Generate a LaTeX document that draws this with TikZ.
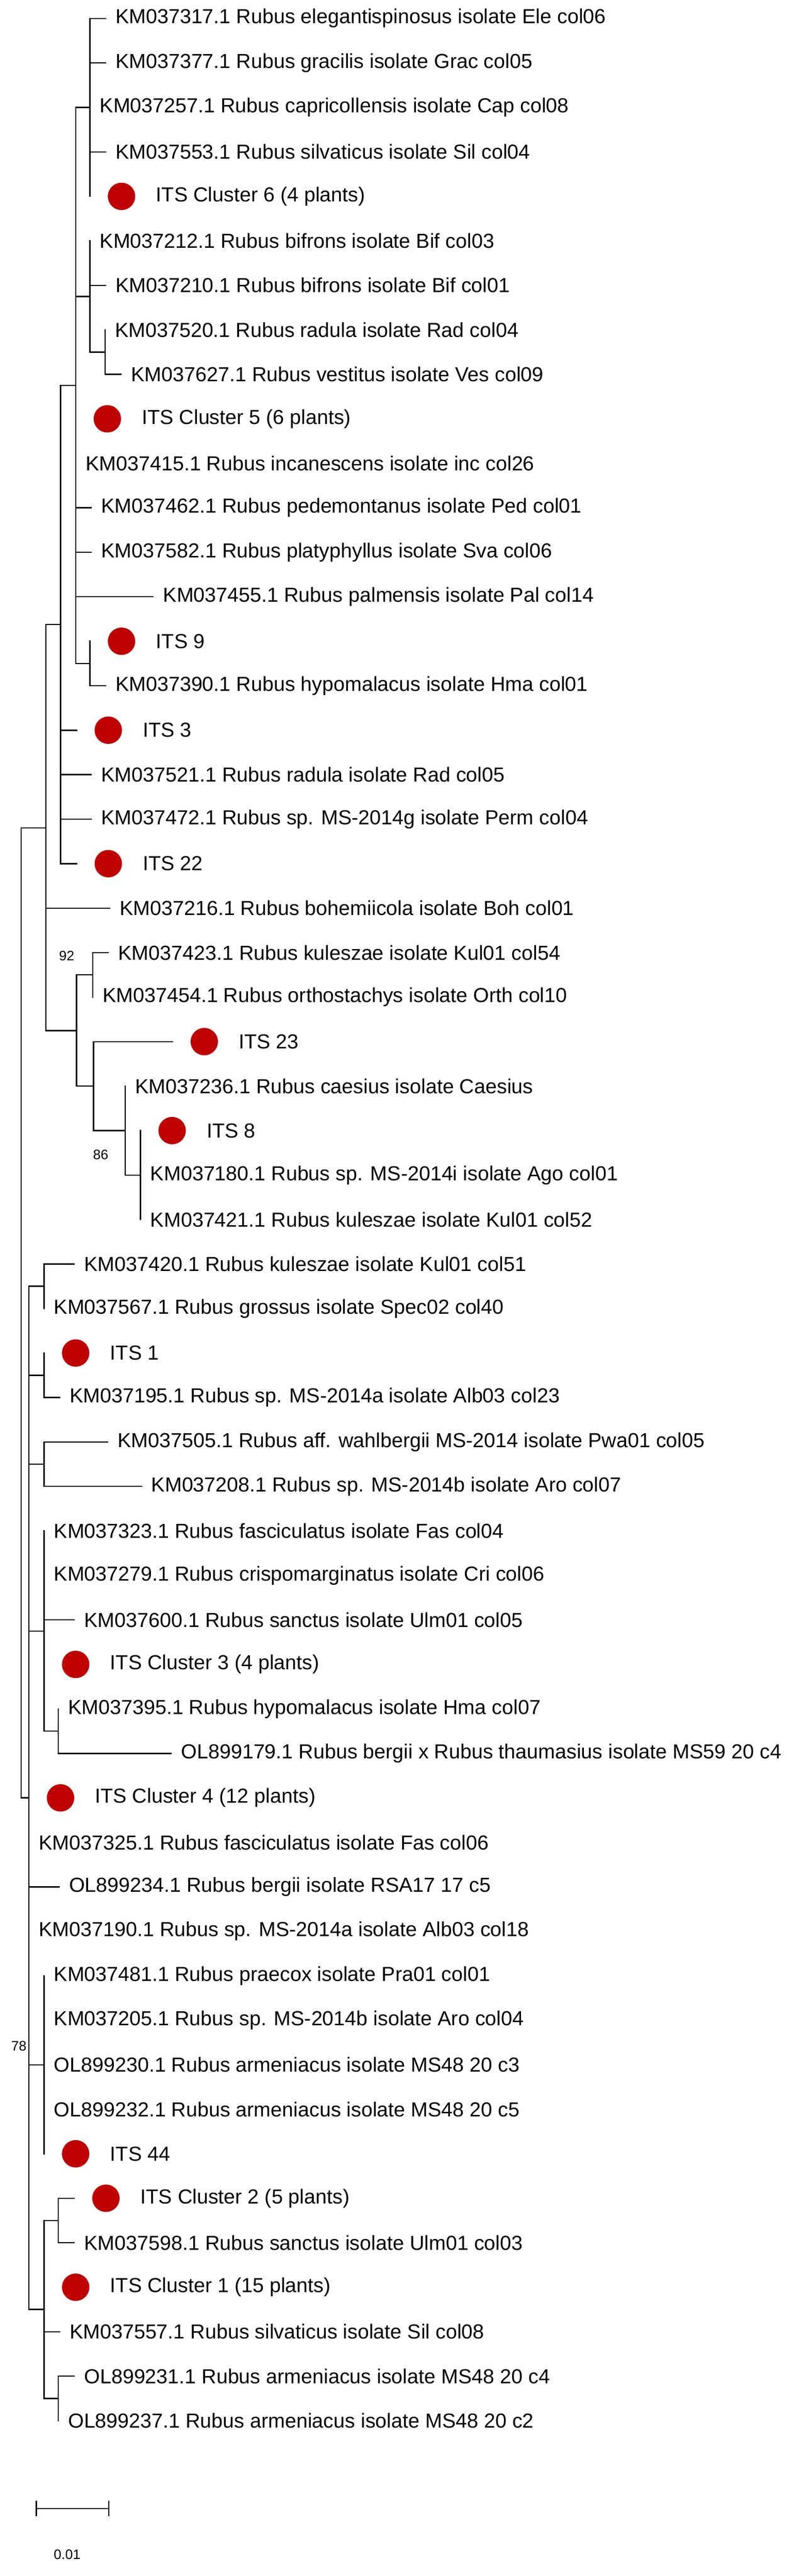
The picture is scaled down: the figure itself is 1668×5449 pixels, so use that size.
\documentclass[tikz,border=0pt]{standalone}
\usepackage{fontspec}
\setmainfont{Liberation Sans}
\begin{document}
\begin{tikzpicture}[x=1pt,y=1pt,
  br/.style={line width=2.6pt,line cap=rect},
  lab/.style={anchor=west,inner sep=0pt,font=\fontsize{43}{50}\selectfont},
  dot/.style={circle,fill=dotred,minimum size=58pt,inner sep=0pt},
  bs/.style={inner sep=0pt,font=\fontsize{29}{33}\selectfont}]
\definecolor{dotred}{RGB}{192,0,0}
\useasboundingbox (0,0) rectangle (1668,-5449);
\newcommand\mkleaf[4]{\coordinate (#1) at (#2,{-(39+94.1*(#3-1))});
  \node[lab] (#1t) at ([xshift=21pt]#1) {#4};}
\newcommand\mkdot[4]{\coordinate (#1) at (#2,{-(39+94.1*(#3-1))});
  \node[dot] (#1d) at ([xshift=67pt]#1) {};
  \node[lab] (#1t) at ([xshift=140pt]#1) {#4};}
% leaves
\mkleaf{t1}{223}{1}{KM037317.1 Rubus elegantispinosus isolate Ele col06}
\mkleaf{t2}{223}{2}{KM037377.1 Rubus gracilis isolate Grac col05}
\mkleaf{t3}{190}{3}{KM037257.1 Rubus capricollensis isolate Cap col08}
\mkleaf{t4}{223}{4}{KM037553.1 Rubus silvaticus isolate Sil col04}
\mkdot{t5}{190}{5}{ITS Cluster 6 (4 plants)}
\mkleaf{t6}{190}{6}{KM037212.1 Rubus bifrons isolate Bif col03}
\mkleaf{t7}{223}{7}{KM037210.1 Rubus bifrons isolate Bif col01}
\mkleaf{t8}{222}{8}{KM037520.1 Rubus radula isolate Rad col04}
\mkleaf{t9}{256}{9}{KM037627.1 Rubus vestitus isolate Ves col09}
\mkdot{t10}{160}{10}{ITS Cluster 5 (6 plants)}
\mkleaf{t11}{160}{11}{KM037415.1 Rubus incanescens isolate inc col26}
\mkleaf{t12}{193}{12}{KM037462.1 Rubus pedemontanus isolate Ped col01}
\mkleaf{t13}{193}{13}{KM037582.1 Rubus platyphyllus isolate Sva col06}
\mkleaf{t14}{324}{14}{KM037455.1 Rubus palmensis isolate Pal col14}
\mkdot{t15}{190}{15}{ITS 9}
\mkleaf{t16}{223}{16}{KM037390.1 Rubus hypomalacus isolate Hma col01}
\mkdot{t17}{162}{17}{ITS 3}
\mkleaf{t18}{193}{18}{KM037521.1 Rubus radula isolate Rad col05}
\mkleaf{t19}{193}{19}{KM037472.1 Rubus sp. MS-2014g isolate Perm col04}
\mkdot{t20}{162}{20}{ITS 22}
\mkleaf{t21}{232}{21}{KM037216.1 Rubus bohemiicola isolate Boh col01}
\mkleaf{t22}{229}{22}{KM037423.1 Rubus kuleszae isolate Kul01 col54}
\mkleaf{t23}{196}{23}{KM037454.1 Rubus orthostachys isolate Orth col10}
\mkdot{t24}{365}{24}{ITS 23}
\mkleaf{t25}{265}{25}{KM037236.1 Rubus caesius isolate Caesius}
\mkdot{t26}{297}{26}{ITS 8}
\mkleaf{t27}{297}{27}{KM037180.1 Rubus sp. MS-2014i isolate Ago col01}
\mkleaf{t28}{297}{28}{KM037421.1 Rubus kuleszae isolate Kul01 col52}
\mkleaf{t29}{157}{29}{KM037420.1 Rubus kuleszae isolate Kul01 col51}
\mkleaf{t30}{93}{30}{KM037567.1 Rubus grossus isolate Spec02 col40}
\mkdot{t31}{93}{31}{ITS 1}
\mkleaf{t32}{126}{32}{KM037195.1 Rubus sp. MS-2014a isolate Alb03 col23}
\mkleaf{t33}{228}{33}{KM037505.1 Rubus aff. wahlbergii MS-2014 isolate Pwa01 col05}
\mkleaf{t34}{299}{34}{KM037208.1 Rubus sp. MS-2014b isolate Aro col07}
\mkleaf{t35}{93}{35}{KM037323.1 Rubus fasciculatus isolate Fas col04}
\mkleaf{t36}{93}{36}{KM037279.1 Rubus crispomarginatus isolate Cri col06}
\mkleaf{t37}{157}{37}{KM037600.1 Rubus sanctus isolate Ulm01 col05}
\mkdot{t38}{93}{38}{ITS Cluster 3 (4 plants)}
\mkleaf{t39}{123}{39}{KM037395.1 Rubus hypomalacus isolate Hma col07}
\mkleaf{t40}{362}{40}{OL899179.1 Rubus bergii x Rubus thaumasius isolate MS59 20 c4}
\mkdot{t41}{61}{41}{ITS Cluster 4 (12 plants)}
\mkleaf{t42}{61}{42}{KM037325.1 Rubus fasciculatus isolate Fas col06}
\mkleaf{t43}{125}{43}{OL899234.1 Rubus bergii isolate RSA17 17 c5}
\mkleaf{t44}{61}{44}{KM037190.1 Rubus sp. MS-2014a isolate Alb03 col18}
\mkleaf{t45}{93}{45}{KM037481.1 Rubus praecox isolate Pra01 col01}
\mkleaf{t46}{93}{46}{KM037205.1 Rubus sp. MS-2014b isolate Aro col04}
\mkleaf{t47}{93}{47}{OL899230.1 Rubus armeniacus isolate MS48 20 c3}
\mkleaf{t48}{93}{48}{OL899232.1 Rubus armeniacus isolate MS48 20 c5}
\mkdot{t49}{93}{49}{ITS 44}
\mkdot{t50}{157}{50}{ITS Cluster 2 (5 plants)}
\mkleaf{t51}{157}{51}{KM037598.1 Rubus sanctus isolate Ulm01 col03}
\mkdot{t52}{93}{52}{ITS Cluster 1 (15 plants)}
\mkleaf{t53}{126}{53}{KM037557.1 Rubus silvaticus isolate Sil col08}
\mkleaf{t54}{157}{54}{OL899231.1 Rubus armeniacus isolate MS48 20 c4}
\mkleaf{t55}{123}{55}{OL899237.1 Rubus armeniacus isolate MS48 20 c2}
% internal nodes
\coordinate (R) at (45,-2777);
\coordinate (U) at (97,-1751);
\coordinate (A) at (128,-1321);
\coordinate (A1) at (160,-815);
\coordinate (C6) at (190,-227.2);
\coordinate (C5) at (190,-627);
\coordinate (C5b) at (222,-744.75);
\coordinate (C9) at (190,-1403.45);
\coordinate (B) at (162,-2180);
\coordinate (B1) at (196,-2062.15);
\coordinate (B2) at (198,-2297.5);
\coordinate (B3) at (265,-2391.5);
\coordinate (B4) at (297,-2485.6);
\coordinate (L) at (61,-3803);
\coordinate (L1) at (93,-2720.85);
\coordinate (L2) at (93,-2909.05);
\coordinate (L3) at (93,-3097.25);
\coordinate (L4) at (93,-3450.4);
\coordinate (L4b) at (123,-3661.85);
\coordinate (L5) at (93,-4367.6);
\coordinate (L6) at (93,-4885);
\coordinate (L6a) at (123,-4696.95);
\coordinate (L6b) at (123,-5073.35);
% branches
\foreach \p/\c in {R/U,R/L,
  U/A,U/t21,U/B,
  A/A1,A/t17,A/t18,A/t19,A/t20,
  A1/C6,A1/C5,A1/t10,A1/t11,A1/t12,A1/t13,A1/t14,A1/C9,
  C6/t1,C6/t2,C6/t3,C6/t4,C6/t5,
  C5/t6,C5/t7,C5/C5b,C5b/t8,C5b/t9,
  C9/t15,C9/t16,
  B/B1,B/B2,B1/t22,B1/t23,B2/t24,B2/B3,B3/t25,B3/B4,B4/t26,B4/t27,B4/t28,
  L/L1,L/L2,L/L3,L/L4,L/t41,L/t42,L/t43,L/t44,L/L5,L/L6,
  L1/t29,L1/t30,L2/t31,L2/t32,L3/t33,L3/t34,
  L4/t35,L4/t36,L4/t37,L4/t38,L4/L4b,L4b/t39,L4b/t40,
  L5/t45,L5/t46,L5/t47,L5/t48,L5/t49,
  L6/L6a,L6/t52,L6/t53,L6/L6b,L6a/t50,L6a/t51,L6b/t54,L6b/t55}
  \draw[br] (\p) |- (\c);
% bootstrap values
\node[bs] (b92) at (141,-2022) {92};
\node[bs] (b86) at (213,-2443) {86};
\node[bs] (b78) at (40,-4328) {78};
% scale bar
\coordinate (s1) at (77,-5306);
\coordinate (s2) at (230,-5306);
\draw[line width=2.6pt] (s1) -- (s2);
\draw[line width=2.6pt] ([yshift=16pt]s1) -- ([yshift=-16pt]s1);
\draw[line width=2.6pt] ([yshift=16pt]s2) -- ([yshift=-16pt]s2);
\node[bs] (sl) at (142,-5403) {0.01};
\end{tikzpicture}
\end{document}
